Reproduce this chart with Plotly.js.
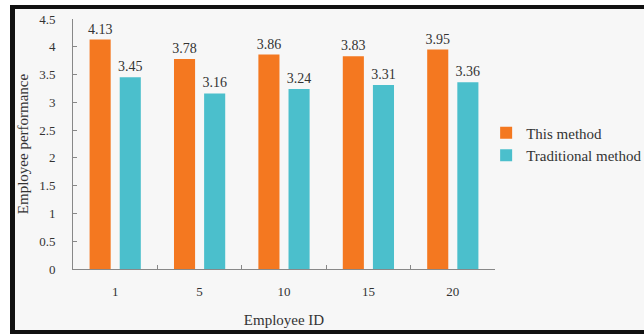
<!DOCTYPE html>
<html>
<head>
<meta charset="utf-8">
<script src="https://cdn.plot.ly/plotly-3.0.1.min.js"></script>
<style>
html,body{margin:0;padding:0;background:#ffffff;width:644px;height:334px;overflow:hidden;}
#frame{position:absolute;box-sizing:border-box;left:10px;top:5px;width:634px;height:329px;border-top:4px solid #111;border-left:5px solid #111;border-bottom:4px solid #111;background:#f7f7f7;overflow:hidden;}
#chart{position:absolute;left:0;top:0;width:720px;height:321px;}
</style>
</head>
<body>
<div id="frame"><div id="chart"></div></div>
<script>
const categories = ['1', '5', '10', '15', '20'];
const thisMethod = [4.13, 3.78, 3.86, 3.83, 3.95];
const traditionalMethod = [3.45, 3.16, 3.24, 3.31, 3.36];
const seriesNames = ['This method', 'Traditional method'];

const fontFam = '"Liberation Serif", "Times New Roman", serif';
const traces = [
  {
    type: 'bar', name: seriesNames[0], x: categories, y: thisMethod,
    marker: {color: '#F47820'},
    text: thisMethod.map(v => v.toFixed(2)), textposition: 'outside', constraintext: 'none',
    textfont: {family: fontFam, size: 14, color: '#333'}, cliponaxis: false
  },
  {
    type: 'bar', name: seriesNames[1], x: categories, y: traditionalMethod,
    marker: {color: '#4BBFCC'},
    text: traditionalMethod.map(v => v.toFixed(2)), textposition: 'outside', constraintext: 'none',
    textfont: {family: fontFam, size: 14, color: '#333'}, cliponaxis: false
  }
];

const layout = {
  width: 720, height: 321,
  margin: {l: 58, r: 240, t: 10, b: 61},
  paper_bgcolor: 'rgba(0,0,0,0)', plot_bgcolor: 'rgba(0,0,0,0)',
  font: {family: fontFam, size: 13, color: '#333'},
  barmode: 'group', bargap: 0.286, bargroupgap: 0.3,
  showlegend: true,
  legend: {x: 0.979, xanchor: 'left', y: 0.5, yanchor: 'middle', font: {family: fontFam, size: 15, color: '#333'}, bgcolor: 'rgba(0,0,0,0)', itemwidth: 30, tracegroupgap: 4},
  xaxis: {
    type: 'category', showline: true, linecolor: '#888', linewidth: 1,
    ticks: 'inside', ticklen: 4, tickcolor: '#888', tickson: 'boundaries',
    showgrid: false, zeroline: false, automargin: false, ticklabelstandoff: 10,
    tickfont: {family: fontFam, size: 13, color: '#333'},
    title: {text: 'Employee ID', font: {family: fontFam, size: 15, color: '#333'}, standoff: 16}
  },
  yaxis: {
    range: [0, 4.5], dtick: 0.5, showline: true, linecolor: '#888', linewidth: 1,
    ticks: 'inside', ticklen: 4, tickcolor: '#888', showgrid: false, zeroline: false,
    automargin: false, ticklabelstandoff: 14,
    tickfont: {family: fontFam, size: 13, color: '#333'},
    title: {text: 'Employee performance', font: {family: fontFam, size: 15, color: '#333'}, standoff: 10}
  }
};

Plotly.newPlot('chart', traces, layout, {displayModeBar: false, staticPlot: true});
</script>
</body>
</html>
